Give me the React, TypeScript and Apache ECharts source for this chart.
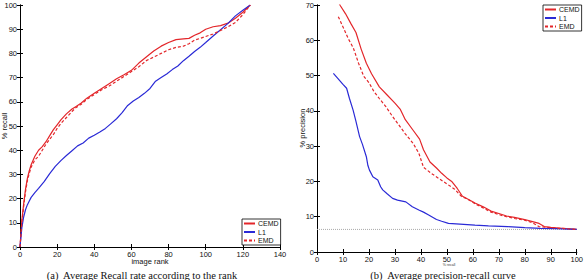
import React, { useEffect, useRef } from "react";
import * as echarts from "echarts";

// Left plot: average recall (%) vs image rank
const cemdRecall: number[][] = [
  [0, 0], [1, 11], [2, 18], [3, 24], [4, 28.5], [5, 31.5], [6, 34], [8, 37.5], [10, 40], [12, 41.5],
  [14, 43.5], [16, 46], [18, 48.5], [20, 50.5], [22, 52.5], [25, 55], [28, 57], [30, 58], [33, 59.5],
  [36, 61.5], [40, 63.5], [44, 65.5], [48, 67.5], [52, 69.5], [56, 71.2], [60, 73], [64, 76], [68, 78.5],
  [72, 81], [76, 83], [80, 84.5], [84, 85.7], [88, 86], [91, 86.2], [94, 87.5], [97, 88.5], [100, 90],
  [104, 91], [108, 91.5], [112, 92.5], [116, 94.5], [120, 97], [124, 100],
];
const l1Recall: number[][] = [
  [0, 0], [1, 8], [2, 12.5], [3, 15.5], [4, 17.5], [5, 19], [6, 20.5], [8, 22.5], [10, 24.2], [13, 27],
  [16, 30.3], [19, 33.3], [22, 35.7], [25, 37.8], [28, 39.8], [31, 41.8], [34, 43], [37, 45], [40, 46.2],
  [43, 47.5], [46, 49], [49, 51], [52, 53], [55, 55.5], [58, 58.5], [61, 60.3], [64, 61.8], [67, 63.5],
  [70, 65.5], [73, 68.5], [76, 70], [79, 71.5], [82, 73.3], [85, 74.8], [88, 77], [91, 78.8], [94, 80.8],
  [97, 82.5], [100, 84.5], [104, 87.2], [108, 89.8], [112, 92.4], [116, 95.5], [120, 97.8], [124, 100],
];
const emdRecall: number[][] = [
  [0, 0], [1, 10], [2, 17], [3, 23], [4, 27.5], [5, 30.5], [6, 33], [8, 36], [10, 37.5], [12, 40],
  [14, 42.5], [16, 44.5], [18, 46.5], [20, 49], [22, 51], [25, 53.5], [28, 56], [30, 57.5], [33, 59],
  [36, 61], [40, 63], [44, 65], [48, 66.5], [52, 68.5], [56, 70.5], [60, 72.5], [64, 74.5], [68, 77],
  [72, 78.5], [76, 80], [80, 81.5], [84, 82.5], [88, 83], [91, 84], [94, 85.5], [97, 86.2], [100, 87],
  [104, 88], [108, 89.5], [112, 91], [116, 92.8], [120, 96], [124, 100],
];

// Right plot: precision (%) vs recall (%)
const cemdPR: number[][] = [
  [7.8, 71.5], [9, 69.8], [11, 67.5], [13, 64.8], [15, 62.2], [17, 57.5], [19, 53.5], [21, 50.5],
  [24, 46.8], [27, 44.5], [30, 42.2], [32, 40.5], [34, 37.5], [37, 34.5], [39.5, 32], [41, 29],
  [43.5, 25.5], [46, 23.8], [48, 22.3], [50, 21], [52, 19.9], [54, 18], [56, 15.8], [58, 15],
  [61, 13.8], [64, 12.8], [67, 11.6], [70, 10.9], [73, 10.2], [76, 9.8], [80, 9.2], [83, 8.6],
  [85.5, 8.1], [87.5, 7.2], [90, 7], [93, 6.8], [96, 6.6], [100, 6.4],
];
const l1PR: number[][] = [
  [6.3, 50.6], [8, 49.2], [10, 47.5], [11.4, 46.4], [12.5, 43.5], [13.9, 40.2], [15, 37], [16.4, 32.7],
  [17.5, 30.5], [19, 27], [19.6, 24.5], [20.2, 23.2], [21.5, 21.3], [23.4, 20.4], [24.5, 18.5],
  [25.3, 17.6], [27, 16.5], [29.1, 15.2], [31, 14.7], [34.2, 14.2], [36.7, 12.8], [39.2, 11.9],
  [41, 11.3], [43, 10.5], [46, 9.2], [48, 8.7], [50.6, 8.1], [55, 7.9], [60.8, 7.6], [66, 7.4],
  [73.4, 7.2], [80, 6.9], [86, 6.7], [92, 6.6], [100, 6.4],
];
const emdPR: number[][] = [
  [8.2, 66.7], [10, 63.8], [12, 60.5], [14, 57.8], [16, 53.5], [18, 49.8], [20, 48], [22, 45.4],
  [24, 43.5], [26.5, 41.2], [29, 38.5], [31.5, 36], [34, 33.5], [37, 30.8], [39.2, 28], [41, 24],
  [44, 22.3], [47, 20.8], [50, 19.3], [53, 17.8], [55.7, 15.7], [58, 15], [61, 13.6], [64, 12.5],
  [67, 11.3], [70, 10.6], [73, 10], [76, 9.5], [80, 9], [83, 8.3], [85.4, 7.2], [88, 7], [92, 6.8],
  [96, 6.6], [100, 6.4],
];
const chanceLevel: number[][] = [[0, 6.4], [100, 6.4]];

const legendNames = ["CEMD", "L1", "EMD"];

const RED = "#e3262a";
const BLUE = "#2a2ad6";
const FONT = "Liberation Sans";

function makeX(gridIndex: number, min: number, max: number, interval: number, bottom: boolean) {
  return {
    type: "value",
    gridIndex,
    min,
    max,
    interval,
    position: bottom ? "bottom" : "top",
    axisLine: { show: true, lineStyle: { color: "#000", width: 1 } },
    axisTick: { show: true, inside: true, length: 3, lineStyle: { color: "#000" } },
    axisLabel: { show: bottom, fontSize: 7.5, color: "#111", margin: 3, fontFamily: FONT },
    splitLine: { show: false },
  };
}
function makeY(gridIndex: number, min: number, max: number, interval: number, left: boolean) {
  return {
    type: "value",
    gridIndex,
    min,
    max,
    interval,
    position: left ? "left" : "right",
    axisLine: { show: true, lineStyle: { color: "#000", width: 1 } },
    axisTick: { show: true, inside: true, length: 3, lineStyle: { color: "#000" } },
    axisLabel: { show: left, fontSize: 7.5, color: "#111", margin: 3, fontFamily: FONT },
    splitLine: { show: false },
  };
}

function lineSeries(name: string, data: number[][], color: string, dashed: boolean, axis: number) {
  return {
    name,
    type: "line",
    data,
    xAxisIndex: axis,
    yAxisIndex: axis,
    symbol: "none",
    showSymbol: false,
    clip: true,
    lineStyle: { color, width: 1.2, type: dashed ? [3, 2] : "solid" },
    itemStyle: { color },
  };
}

function legendAt(left: number, top: number) {
  return {
    data: legendNames,
    orient: "vertical",
    left,
    top,
    itemWidth: 11,
    itemHeight: 6,
    itemGap: 1.5,
    padding: [1, 2, 1, 1],
    borderColor: "#000",
    borderWidth: 0.8,
    borderRadius: 0,
    backgroundColor: "#fff",
    selectedMode: false,
    itemStyle: { opacity: 0 },
    textStyle: { fontSize: 7, color: "#111", fontFamily: FONT, padding: [0, 0, 0, -2] },
  };
}

export default function App() {
  const ref = useRef<HTMLDivElement>(null);
  useEffect(() => {
    if (!ref.current) return;
    const chart = echarts.init(ref.current, null, { renderer: "svg" });
    chart.setOption({
      animation: false,
      backgroundColor: "#fff",
      grid: [
        { left: 20, top: 5, width: 260, height: 242 },
        { left: 317, top: 5, width: 263, height: 247 },
      ],
      xAxis: [
        makeX(0, 0, 140, 20, true),
        makeX(0, 0, 140, 20, false),
        makeX(1, 0, 100, 10, true),
        makeX(1, 0, 100, 10, false),
      ],
      yAxis: [
        makeY(0, 0, 100, 10, true),
        makeY(0, 0, 100, 10, false),
        makeY(1, 0, 70, 10, true),
        makeY(1, 0, 70, 10, false),
      ],
      legend: [legendAt(242, 219), legendAt(543, 5)],
      series: [
        lineSeries("CEMD", cemdRecall, RED, false, 0),
        lineSeries("L1", l1Recall, BLUE, false, 0),
        lineSeries("EMD", emdRecall, RED, true, 0),
        {
          name: "chance",
          type: "line",
          data: chanceLevel,
          xAxisIndex: 2,
          yAxisIndex: 2,
          symbol: "none",
          lineStyle: { color: "#aaa", width: 1, type: [1, 1] },
          z: 1,
        },
        lineSeries("CEMD", cemdPR, RED, false, 2),
        lineSeries("L1", l1PR, BLUE, false, 2),
        lineSeries("EMD", emdPR, RED, true, 2),
      ],
      graphic: [
        { type: "text", x: 150, y: 261.5, style: { text: "image rank", fontSize: 7.5, fontFamily: FONT, fill: "#111", align: "center", verticalAlign: "middle" } },
        { type: "text", x: 4, y: 126, rotation: Math.PI / 2, style: { text: "% recall", fontSize: 7.5, fontFamily: FONT, fill: "#111", align: "center", verticalAlign: "middle" } },
        { type: "text", x: 302, y: 128, rotation: Math.PI / 2, style: { text: "% precision", fontSize: 7.5, fontFamily: FONT, fill: "#111", align: "center", verticalAlign: "middle" } },
        { type: "text", x: 449, y: 264.5, style: { text: "% recall", fontSize: 3.5, fontFamily: FONT, fill: "#333", align: "center", verticalAlign: "middle" } },
        { type: "text", x: 142, y: 275, style: { text: "(a)  Average Recall rate according to the rank", fontSize: 10.5, fontFamily: "Liberation Serif", fill: "#111", align: "center", verticalAlign: "middle" } },
        { type: "text", x: 443, y: 275, style: { text: "(b)  Average precision-recall curve", fontSize: 10.5, fontFamily: "Liberation Serif", fill: "#111", align: "center", verticalAlign: "middle" } },
      ],
    });
    return () => chart.dispose();
  }, []);
  return <div ref={ref} style={{ width: 586, height: 280, position: "absolute", left: 0, top: 0 }} />;
}
